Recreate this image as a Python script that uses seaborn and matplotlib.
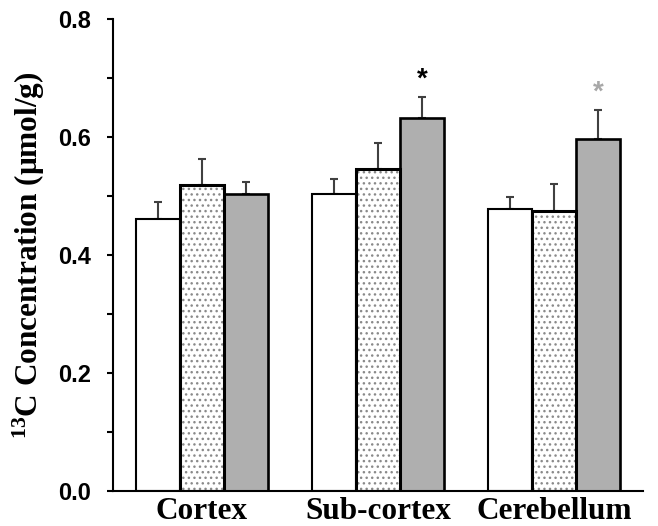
import numpy as np
import pandas as pd
import matplotlib
matplotlib.use("Agg")
import matplotlib.pyplot as plt
from matplotlib.patches import Rectangle
from matplotlib.ticker import MultipleLocator
import seaborn as sns

# values (umol/g)
regions = ["Cortex", "Sub-cortex", "Cerebellum"]
groups = ["white", "dotted", "gray"]
white_vals = [0.461, 0.503, 0.478]
dotted_vals = [0.518, 0.546, 0.474]
gray_vals = [0.503, 0.632, 0.596]
white_err = [0.029, 0.025, 0.021]
dotted_err = [0.045, 0.043, 0.046]
gray_err = [0.020, 0.035, 0.050]
# significance marks on the gray bars
star_colors = [None, "black", "#a8a8a8"]

df = pd.DataFrame({
    "region": regions * 3,
    "group": [g for g in groups for _ in regions],
    "value": white_vals + dotted_vals + gray_vals,
    "err": white_err + dotted_err + gray_err,
})

sns.set_theme(style="ticks")
plt.rcParams.update({
    "mathtext.fontset": "custom",
    "mathtext.rm": "Liberation Serif:bold",
    "mathtext.it": "Liberation Serif:bold",
    "mathtext.bf": "Liberation Serif:bold",
})

fig = plt.figure(figsize=(6.58, 5.26), dpi=100)
ax = fig.add_axes([0.1717, 0.0665, 0.8053, 0.8974])

palette = {"white": "white", "dotted": "white", "gray": "#afafaf"}
sns.barplot(data=df, x="region", y="value", hue="group", order=regions,
            hue_order=groups, palette=palette, width=0.75, gap=0,
            edgecolor="black", linewidth=1.5, errorbar=None, legend=False, ax=ax)

# seaborn adds patches hue by hue, region by region
bars = [p for p in ax.patches if isinstance(p, Rectangle)][:len(df)]
for p, (_, row) in zip(bars, df.iterrows()):
    cx = p.get_x() + p.get_width() / 2
    top = p.get_height()
    if row["group"] == "dotted":
        p.set_hatch("...")
        p.set_edgecolor("#8a8a8a")
        p.set_linewidth(0)
        ax.add_patch(Rectangle(p.get_xy(), p.get_width(), p.get_height(),
                               fill=False, ec="black", lw=2.2, zorder=p.get_zorder() + 0.1))
    elif row["group"] == "gray":
        p.set_linewidth(1.9)
    ax.errorbar(cx, top, yerr=[[0], [row["err"]]], fmt="none",
                ecolor="#404040", elinewidth=1.5, capsize=3, capthick=1.5,
                zorder=p.get_zorder() - 0.5)
    if row["group"] == "gray":
        i = regions.index(row["region"])
        if star_colors[i]:
            ax.text(cx, top + row["err"] + 0.008, "*", ha="center", va="bottom",
                    fontsize=20, fontweight="bold", color=star_colors[i],
                    family="Liberation Sans")

ax.set_xlim(-0.506, 2.506)
ax.set_ylim(0, 0.8)
ax.yaxis.set_major_locator(MultipleLocator(0.2))
ax.yaxis.set_minor_locator(MultipleLocator(0.1))
ax.set_yticklabels([f"{v:.1f}" for v in ax.get_yticks()])
sns.despine(ax=ax)
for s in ["left", "bottom"]:
    ax.spines[s].set_linewidth(1.5)
    ax.spines[s].set_color("black")

ax.tick_params(axis="y", which="both", direction="out", length=4.5, width=1.5,
               color="black", pad=11)
ax.tick_params(axis="x", length=0, pad=4)
for t in ax.get_yticklabels():
    t.set_fontfamily("Liberation Sans")
    t.set_fontweight("bold")
    t.set_fontsize(17)
    t.set_color("black")
for t in ax.get_xticklabels():
    t.set_fontfamily("Liberation Serif")
    t.set_fontweight("bold")
    t.set_fontsize(22.5)
    t.set_color("black")

ax.set_xlabel("")
ax.set_ylabel("$^{13}$C Concentration (μmol/g)", fontsize=22.5,
              fontfamily="Liberation Serif", fontweight="bold", color="black")
ax.yaxis.set_label_coords(-0.125, 0.5)

fig.savefig("out.png", dpi=100)
